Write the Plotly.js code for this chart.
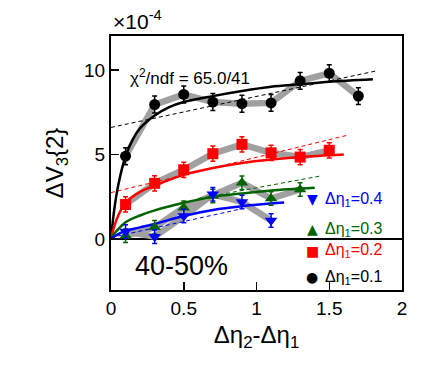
<!DOCTYPE html>
<html><head><meta charset="utf-8">
<script src="https://cdn.plot.ly/plotly-3.0.1.min.js"></script>
<style>html,body{margin:0;padding:0;background:#fff}#chart{width:446px;height:374px}</style>
</head><body><div id="chart"></div>
<script>
// Data points (x = Δη2-Δη1, y = ΔV3{2} in units of 1e-4)
const x01 = [0.1, 0.3, 0.5, 0.7, 0.9, 1.1, 1.3, 1.5, 1.7];
const y01 = [4.9, 7.95, 8.55, 8.1, 8.0, 8.05, 9.35, 9.8, 8.45];
const e01 = [0.5, 0.5, 0.5, 0.5, 0.5, 0.5, 0.5, 0.5, 0.5];

const x02 = [0.1, 0.3, 0.5, 0.7, 0.9, 1.1, 1.3, 1.5];
const y02 = [2.05, 3.3, 4.1, 5.05, 5.6, 5.1, 4.85, 5.25];
const e02 = [0.45, 0.45, 0.45, 0.45, 0.45, 0.45, 0.45, 0.45];

const x03 = [0.1, 0.3, 0.5, 0.7, 0.9, 1.1, 1.3];
const y03 = [0.2, 0.7, 1.86, 2.55, 3.33, 2.4, 2.94];
const e03 = [0.4, 0.4, 0.4, 0.4, 0.4, 0.4, 0.4];

const x04 = [0.1, 0.3, 0.5, 0.7, 0.9, 1.1];
const y04 = [0.45, 0.15, 1.37, 2.65, 2.2, 1.1];
const e04 = [0.4, 0.4, 0.4, 0.4, 0.4, 0.4];

// Fit curves (solid)
const fx01 = [0, 0.02, 0.05, 0.1, 0.15, 0.2, 0.3, 0.4, 0.5, 0.7, 0.9, 1.1, 1.3, 1.5, 1.8];
const fy01 = [0, 1.6, 3.2, 4.9, 5.9, 6.55, 7.3, 7.8, 8.1, 8.45, 8.75, 9.0, 9.15, 9.3, 9.45];
const fx02 = [0, 0.02, 0.05, 0.1, 0.2, 0.3, 0.4, 0.5, 0.7, 0.9, 1.1, 1.3, 1.6];
const fy02 = [0, 0.7, 1.4, 2.15, 2.8, 3.15, 3.5, 3.8, 4.2, 4.5, 4.7, 4.85, 5.0];
const fx03 = [0, 0.02, 0.05, 0.1, 0.2, 0.3, 0.5, 0.7, 0.9, 1.1, 1.4];
const fy03 = [0, 0.3, 0.6, 1.0, 1.4, 1.7, 2.15, 2.5, 2.7, 2.88, 3.04];
const fx04 = [0, 0.02, 0.05, 0.1, 0.2, 0.3, 0.5, 0.7, 0.9, 1.19];
const fy04 = [0, 0.15, 0.3, 0.5, 0.7, 0.9, 1.37, 1.73, 1.95, 2.16];

// Dashed linear fits (end points)
const dx01 = [0, 1.83];  const dy01 = [6.6, 9.95];
const dx02 = [0, 1.63];  const dy02 = [2.75, 6.15];
const dx03 = [0.6, 1.45]; const dy03 = [2.4, 3.75];
const dx04 = [0, 0.9];   const dy04 = [0.1, 1.8];

const seriesNames = ['Δη1=0.1', 'Δη1=0.2', 'Δη1=0.3', 'Δη1=0.4'];
const colors = ['#000000', '#ff0000', '#006400', '#0000ff'];
const symbols = ['circle', 'square', 'triangle-up', 'triangle-down'];
const legendGlyphs = ['●', '■', '▲', '▼'];
const legendLabels = ['Δη<sub>1</sub>=0.1', 'Δη<sub>1</sub>=0.2', 'Δη<sub>1</sub>=0.3', 'Δη<sub>1</sub>=0.4'];
const legendY = [-2.25, -0.69, 0.59, 2.35];

const pts = [[x01,y01,e01],[x02,y02,e02],[x03,y03,e03],[x04,y04,e04]];
const fits = [[fx01,fy01],[fx02,fy02],[fx03,fy03],[fx04,fy04]];
const dashes = [[dx01,dy01],[dx02,dy02],[dx03,dy03],[dx04,dy04]];

const traces = [];
// grey systematic bands
pts.forEach(p => traces.push({x:p[0], y:p[1], mode:'lines', line:{color:'#a0a0a0', width:6.5}, showlegend:false, hoverinfo:'skip'}));
// dashed lines
dashes.forEach((d,i) => traces.push({x:d[0], y:d[1], mode:'lines', line:{color:colors[i], width:1, dash:'4px,3px'}, showlegend:false}));
// fit curves
fits.forEach((f,i) => traces.push({x:f[0], y:f[1], mode:'lines', line:{color:colors[i], width:2.5, shape:'spline'}, showlegend:false}));
// data points
pts.forEach((p,i) => traces.push({x:p[0], y:p[1], mode:'markers', name:seriesNames[i],
  marker:{color:colors[i], symbol:symbols[i], size:11},
  error_y:{type:'data', array:p[2], visible:true, color:colors[i], thickness:1.5, width:2.5},
  showlegend:false}));

const font = 'Liberation Sans, Arial, sans-serif';
const annotations = [
  {xref:'paper', yref:'paper', x:0, y:1, xanchor:'left', yanchor:'bottom', yshift:1, showarrow:false,
   text:'×10<sup>-4</sup>', font:{family:font, size:21, color:'#000'}},
  {x:0.12, y:9.55, xanchor:'left', yanchor:'middle', showarrow:false,
   text:'χ<sup>2</sup>/ndf = 65.0/41', font:{family:font, size:17, color:'#000'}},
  {x:0.15, y:-1.57, xanchor:'left', yanchor:'middle', showarrow:false,
   text:'40-50%', font:{family:font, size:27, color:'#000'}}
];
for (let i = 0; i < 4; i++) {
  annotations.push({x:1.384, y:legendY[i], xanchor:'center', yanchor:'middle', showarrow:false,
    text:legendGlyphs[i], font:{family:'DejaVu Sans', size:14, color:colors[i]}});
  annotations.push({x:1.46, y:legendY[i], xanchor:'left', yanchor:'middle', showarrow:false,
    text:legendLabels[i], font:{family:font, size:16, color:colors[i]}});
}

const layout = {
  width:446, height:374,
  margin:{l:111, r:44, t:36, b:84},
  paper_bgcolor:'#fff', plot_bgcolor:'#fff',
  showlegend:false,
  font:{family:font, color:'#000'},
  xaxis:{range:[0,2], tickvals:[0,0.5,1,1.5,2], ticktext:['0','0.5','1','1.5','2'],
    ticks:'inside', ticklen:8, tickwidth:1.5, tickcolor:'#000',
    showline:true, linecolor:'#000', linewidth:2, mirror:true, showgrid:false, zeroline:false,
    tickfont:{size:19, family:font},
    title:{text:'Δη<sub>2</sub>-Δη<sub>1</sub>', font:{size:24, family:font}, standoff:8}},
  yaxis:{range:[-3,12], tickvals:[0,5,10], ticktext:['0','5','10'],
    ticks:'inside', ticklen:8, tickwidth:1.5, tickcolor:'#000',
    showline:true, linecolor:'#000', linewidth:2, mirror:true, showgrid:false,
    zeroline:true, zerolinecolor:'#000', zerolinewidth:1.5,
    tickfont:{size:19, family:font},
    title:{text:'ΔV<sub>3</sub>{2}', font:{size:24, family:font}, standoff:14}},
  annotations:annotations
};

Plotly.newPlot('chart', traces, layout, {displayModeBar:false, staticPlot:true});
</script>
</body></html>
